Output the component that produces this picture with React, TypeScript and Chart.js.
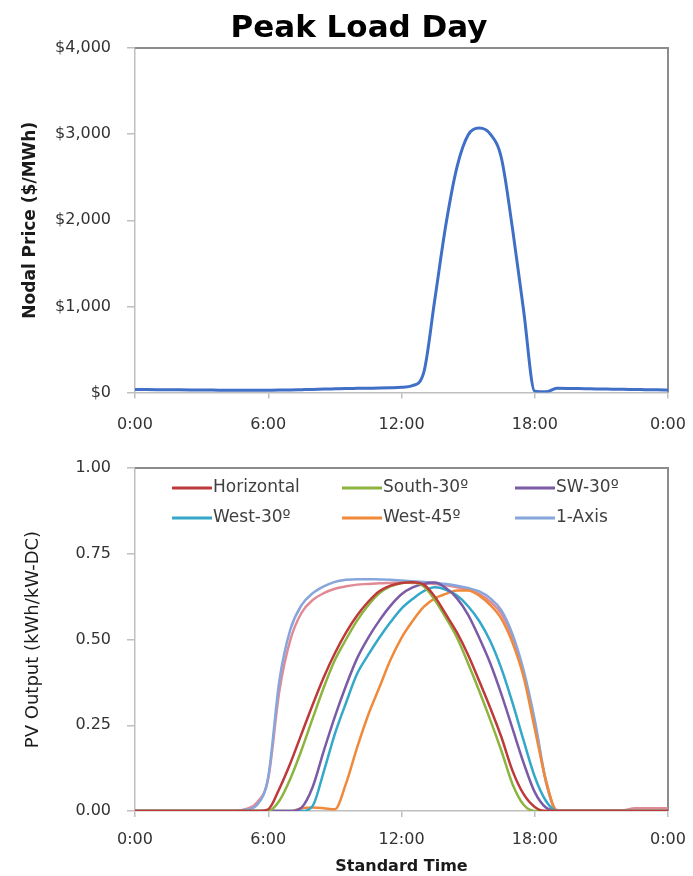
import React, { useEffect, useRef } from 'react';
import { Chart, registerables } from 'chart.js';
Chart.register(...registerables);

// ---------- data ----------
const hours = [0, 0.5, 1, 1.5, 2, 2.5, 3, 3.5, 4, 4.5, 5, 5.5, 6, 6.5, 7, 7.5, 8, 8.5, 9, 9.5, 10, 10.5, 11, 11.5, 12, 12.5, 13, 13.5, 14, 14.5, 15, 15.5, 16, 16.5, 17, 17.5, 18, 18.5, 19, 19.5, 20, 20.5, 21, 21.5, 22, 22.5, 23, 23.5, 24];

const nodalPrice = [35, 34, 33, 32, 31, 30, 29, 28, 27, 26, 26, 26, 27, 28, 30, 33, 36, 40, 43, 46, 48, 50, 52, 55, 60, 80, 230, 1080, 1950, 2620, 2990, 3070, 3000, 2720, 1900, 950, 15, 8, 48, 47, 45, 43, 41, 39, 37, 35, 33, 31, 28];

const horizontal = [0, 0, 0, 0, 0, 0, 0, 0, 0, 0, 0, 0, 0.005, 0.065, 0.14, 0.225, 0.31, 0.39, 0.46, 0.52, 0.57, 0.61, 0.641, 0.657, 0.665, 0.667, 0.66, 0.625, 0.573, 0.52, 0.455, 0.379, 0.3, 0.215, 0.117, 0.049, 0.012, 0, 0, 0, 0, 0, 0, 0, 0, 0, 0, 0, 0];
const south30 = [0, 0, 0, 0, 0, 0, 0, 0, 0, 0, 0, 0, 0, 0.03, 0.095, 0.178, 0.27, 0.36, 0.44, 0.5, 0.555, 0.6, 0.635, 0.655, 0.665, 0.667, 0.655, 0.615, 0.563, 0.505, 0.43, 0.35, 0.265, 0.175, 0.078, 0.018, 0, 0, 0, 0, 0, 0, 0, 0, 0, 0, 0, 0, 0];
const sw30 = [0, 0, 0, 0, 0, 0, 0, 0, 0, 0, 0, 0, 0, 0, 0, 0.01, 0.07, 0.175, 0.275, 0.365, 0.445, 0.505, 0.555, 0.598, 0.632, 0.652, 0.662, 0.666, 0.65, 0.62, 0.572, 0.505, 0.43, 0.34, 0.24, 0.14, 0.055, 0.01, 0, 0, 0, 0, 0, 0, 0, 0, 0, 0, 0];
const west30 = [0, 0, 0, 0, 0, 0, 0, 0, 0, 0, 0, 0, 0, 0, 0, 0, 0.015, 0.115, 0.225, 0.315, 0.4, 0.455, 0.505, 0.55, 0.59, 0.618, 0.641, 0.652, 0.645, 0.628, 0.597, 0.554, 0.495, 0.415, 0.315, 0.205, 0.1, 0.03, 0, 0, 0, 0, 0, 0, 0, 0, 0, 0, 0];
const west45 = [0, 0, 0, 0, 0, 0, 0, 0, 0, 0, 0, 0, 0, 0, 0, 0.008, 0.01, 0.008, 0.005, 0.08, 0.185, 0.28, 0.36, 0.44, 0.505, 0.554, 0.595, 0.62, 0.633, 0.643, 0.643, 0.628, 0.6, 0.56, 0.49, 0.39, 0.24, 0.09, 0, 0, 0, 0, 0, 0, 0, 0, 0, 0, 0];
const oneAxis = [0, 0, 0, 0, 0, 0, 0, 0, 0, 0, 0.004, 0.018, 0.1, 0.38, 0.53, 0.6, 0.635, 0.655, 0.668, 0.674, 0.676, 0.676, 0.675, 0.674, 0.672, 0.67, 0.668, 0.665, 0.662, 0.657, 0.65, 0.64, 0.62, 0.585, 0.515, 0.41, 0.265, 0.09, 0, 0, 0, 0, 0, 0, 0, 0, 0, 0, 0];
const unlabeledPink = [0, 0, 0, 0, 0, 0, 0, 0, 0, 0, 0.006, 0.025, 0.095, 0.35, 0.5, 0.578, 0.615, 0.635, 0.648, 0.655, 0.66, 0.662, 0.664, 0.665, 0.666, 0.665, 0.664, 0.662, 0.658, 0.652, 0.645, 0.632, 0.61, 0.575, 0.505, 0.4, 0.258, 0.085, 0.003, 0.002, 0.002, 0.002, 0.002, 0.002, 0.002, 0.008, 0.008, 0.008, 0.008];

const seriesNames = ['Horizontal', 'South-30º', 'SW-30º', 'West-30º', 'West-45º', '1-Axis'];
const seriesValues = [horizontal, south30, sw30, west30, west45, oneAxis];
const seriesColors = ['#BE3A3A', '#8CB43F', '#7B5AA6', '#33A8C9', '#F08A3A', '#86A6DC'];

const timeTicks = [0, 6, 12, 18, 24];
const priceTicks = [0, 1000, 2000, 3000, 4000];
const pvTicks = [0, 0.25, 0.5, 0.75, 1];

const FONT = "'DejaVu Sans', sans-serif";
Chart.defaults.font.family = FONT;

const timeLabel = (v: number) => `${Math.round(v) % 24}:00`;
const pts = (vals: number[]) => hours.map((h, i) => ({ x: h, y: vals[i] }));

const framePlugin = {
  id: 'frame',
  beforeDatasetsDraw(chart: any) {
    const { ctx, chartArea: a } = chart;
    ctx.save();
    ctx.strokeStyle = '#8C8C8C';
    ctx.lineWidth = 2;
    ctx.beginPath();
    ctx.moveTo(a.left, a.top);
    ctx.lineTo(a.right, a.top);
    ctx.lineTo(a.right, a.bottom);
    ctx.stroke();
    ctx.restore();
  },
};

const titlePlugin = {
  id: 'bigTitle',
  afterDraw(chart: any) {
    const { ctx } = chart;
    ctx.save();
    ctx.font = `bold 31px ${FONT}`;
    ctx.fillStyle = '#000';
    ctx.textAlign = 'center';
    ctx.textBaseline = 'alphabetic';
    ctx.fillText('Peak Load Day', 359, 37);
    ctx.restore();
  },
};

const legendPlugin = {
  id: 'insideLegend',
  afterDraw(chart: any) {
    const { ctx, chartArea: a } = chart;
    const colX = [37, 207, 380];
    const rowY = [20, 50];
    ctx.save();
    ctx.font = `17px ${FONT}`;
    ctx.textBaseline = 'middle';
    ctx.textAlign = 'left';
    seriesNames.forEach((name, i) => {
      const x = a.left + colX[i % 3];
      const y = a.top + rowY[Math.floor(i / 3)];
      ctx.strokeStyle = seriesColors[i];
      ctx.lineWidth = 3;
      ctx.beginPath();
      ctx.moveTo(x, y);
      ctx.lineTo(x + 40, y);
      ctx.stroke();
      ctx.fillStyle = '#404040';
      ctx.fillText(name, x + 41, y);
    });
    ctx.restore();
  },
};

const axisGrid = (len: number) => ({ drawOnChartArea: false, drawTicks: true, tickLength: len, color: '#BFBFBF', lineWidth: 1.5 });
const axisBorder = { display: true, color: '#BFBFBF', width: 1.5 };
const fitX = (h: number) => (s: any) => {
  s.height = h;
  s.paddingLeft = 0;
  s.paddingRight = 0;
};

export default function App() {
  const topRef = useRef<HTMLCanvasElement>(null);
  const botRef = useRef<HTMLCanvasElement>(null);

  useEffect(() => {
    const top = new Chart(topRef.current as HTMLCanvasElement, {
      type: 'line',
      data: {
        datasets: [
          {
            data: pts(nodalPrice),
            borderColor: '#3F6FC6',
            borderWidth: 3,
            pointRadius: 0,
            cubicInterpolationMode: 'monotone',
            fill: false,
          },
        ],
      },
      options: {
        animation: false,
        responsive: true,
        maintainAspectRatio: false,
        layout: { padding: { top: 48, right: 25, left: 0, bottom: 0 } },
        plugins: { legend: { display: false }, tooltip: { enabled: false }, title: { display: false } },
        scales: {
          x: {
            type: 'linear',
            min: 0,
            max: 24,
            afterBuildTicks: (s: any) => { s.ticks = timeTicks.map((v) => ({ value: v })); },
            afterFit: fitX(47.5),
            ticks: { callback: (v: any) => timeLabel(Number(v)), font: { size: 16 }, color: '#333', padding: 17, maxRotation: 0, autoSkip: false },
            grid: axisGrid(6),
            border: axisBorder,
          },
          y: {
            type: 'linear',
            min: 0,
            max: 4000,
            afterBuildTicks: (s: any) => { s.ticks = priceTicks.map((v) => ({ value: v })); },
            afterFit: (s: any) => { s.width = 135; },
            ticks: { callback: (v: any) => '$' + Number(v).toLocaleString('en-US'), font: { size: 16 }, color: '#333', padding: 16 },
            grid: axisGrid(8),
            border: axisBorder,
            title: { display: true, text: 'Nodal Price ($/MWh)', font: { size: 17, weight: 'bold' }, color: '#1a1a1a', padding: { top: 20, bottom: 0 } },
          },
        },
      },
      plugins: [framePlugin, titlePlugin],
    } as any);

    const datasets: any[] = seriesNames.map((name, i) => ({
      label: name,
      data: pts(seriesValues[i]),
      borderColor: seriesColors[i],
      borderWidth: 2.5,
      pointRadius: 0,
      cubicInterpolationMode: 'monotone',
      fill: false,
    }));
    datasets.push({
      label: '',
      data: pts(unlabeledPink),
      borderColor: '#E08A96',
      borderWidth: 2.5,
      pointRadius: 0,
      cubicInterpolationMode: 'monotone',
      fill: false,
    });

    const bot = new Chart(botRef.current as HTMLCanvasElement, {
      type: 'line',
      data: { datasets },
      options: {
        animation: false,
        responsive: true,
        maintainAspectRatio: false,
        layout: { padding: { top: 28, right: 25, left: 0, bottom: 0 } },
        plugins: { legend: { display: false }, tooltip: { enabled: false }, title: { display: false } },
        scales: {
          x: {
            type: 'linear',
            min: 0,
            max: 24,
            afterBuildTicks: (s: any) => { s.ticks = timeTicks.map((v) => ({ value: v })); },
            afterFit: fitX(65),
            ticks: { callback: (v: any) => timeLabel(Number(v)), font: { size: 16 }, color: '#333', padding: 13, maxRotation: 0, autoSkip: false },
            grid: axisGrid(6),
            border: axisBorder,
            title: { display: true, text: 'Standard Time', font: { size: 16, weight: 'bold' }, color: '#1a1a1a', padding: { top: 0, bottom: 0 } },
          },
          y: {
            type: 'linear',
            min: 0,
            max: 1,
            afterBuildTicks: (s: any) => { s.ticks = pvTicks.map((v) => ({ value: v })); },
            afterFit: (s: any) => { s.width = 135; },
            ticks: { callback: (v: any) => Number(v).toFixed(2), font: { size: 16 }, color: '#333', padding: 16 },
            grid: axisGrid(8),
            border: axisBorder,
            title: { display: true, text: 'PV Output (kWh/kW-DC)', font: { size: 18 }, color: '#1a1a1a', padding: { top: 23, bottom: 0 } },
          },
        },
      },
      plugins: [framePlugin, legendPlugin],
    } as any);

    return () => {
      top.destroy();
      bot.destroy();
    };
  }, []);

  return (
    <div style={{ position: 'absolute', left: 0, top: 0, width: 693, height: 876, background: '#fff' }}>
      <div style={{ position: 'absolute', left: 0, top: 0, width: 693, height: 440 }}>
        <canvas ref={topRef} />
      </div>
      <div style={{ position: 'absolute', left: 0, top: 440, width: 693, height: 436 }}>
        <canvas ref={botRef} />
      </div>
    </div>
  );
}
